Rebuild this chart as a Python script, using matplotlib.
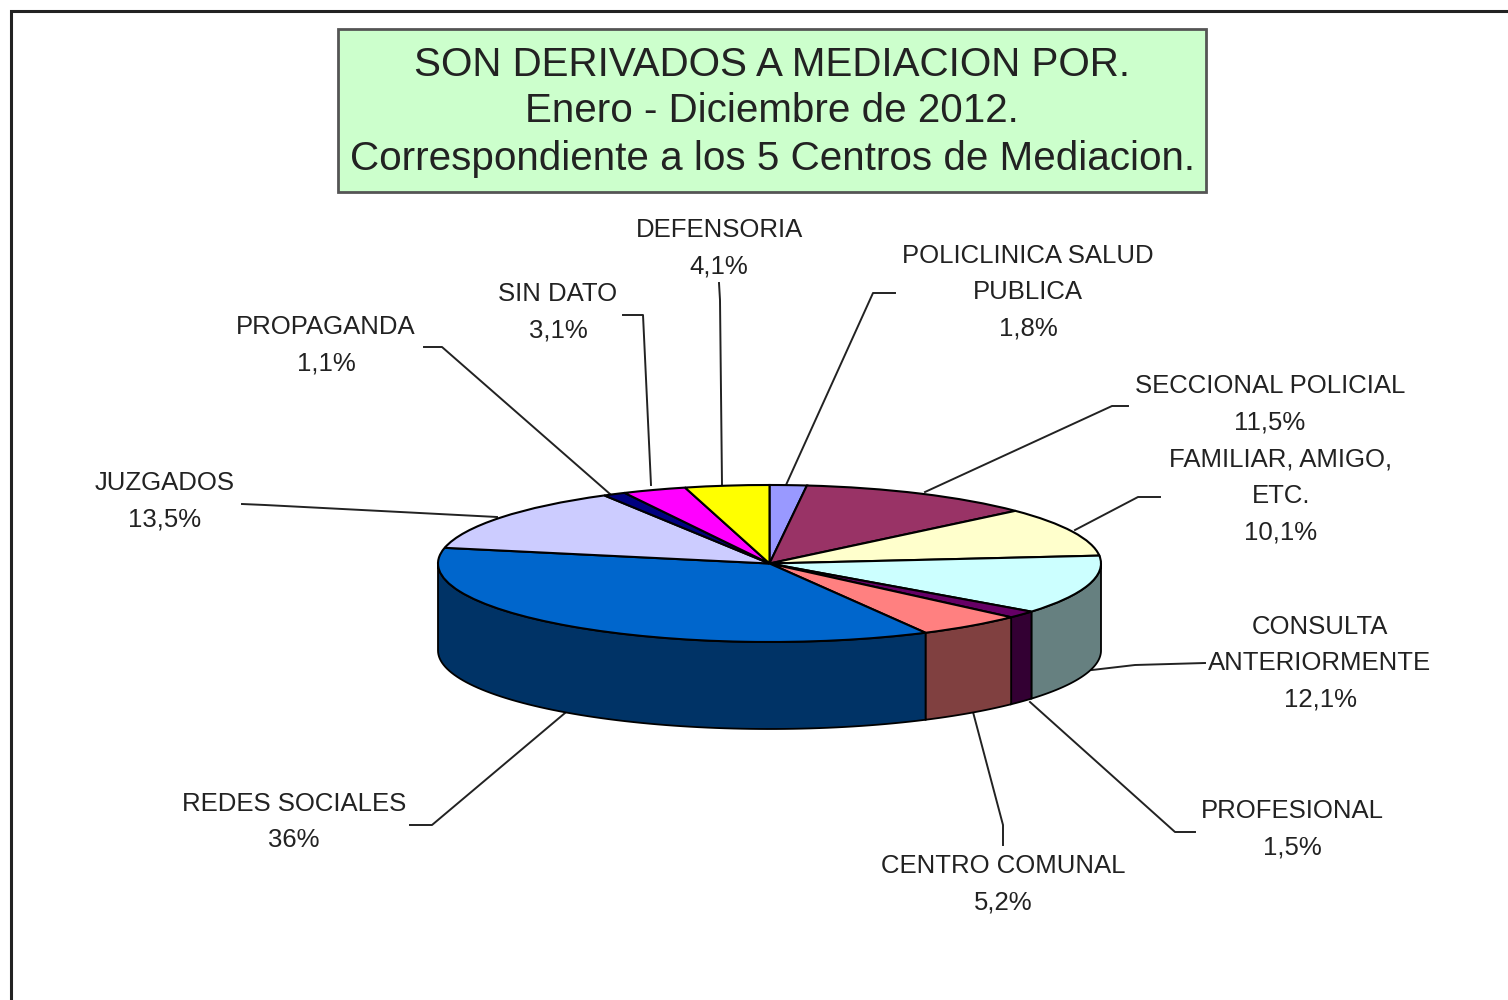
import numpy as np
import matplotlib
matplotlib.use("Agg")
import matplotlib.pyplot as plt
from matplotlib.patches import Rectangle

plt.rcParams['font.family'] = ['Liberation Sans', 'DejaVu Sans']

# clockwise from 12 o'clock
categories = ["POLICLINICA SALUD\nPUBLICA", "SECCIONAL POLICIAL", "FAMILIAR, AMIGO,\nETC.",
              "CONSULTA\nANTERIORMENTE", "PROFESIONAL", "CENTRO COMUNAL", "REDES SOCIALES",
              "JUZGADOS", "PROPAGANDA", "SIN DATO", "DEFENSORIA"]
values = [1.8, 11.5, 10.1, 12.1, 1.5, 5.2, 36, 13.5, 1.1, 3.1, 4.1]
title_lines = ["SON DERIVADOS A MEDIACION POR.", "Enero - Diciembre de 2012.",
               "Correspondiente a los 5 Centros de Mediacion."]

top_colors = ["#9999FF", "#993366", "#FFFFCC", "#CCFFFF", "#660066", "#FF8080",
              "#0066CC", "#CCCCFF", "#000080", "#FF00FF", "#FFFF00"]
side_colors = ["#4D4D80", "#4D1A33", "#808066", "#668080", "#330033", "#804040",
               "#003366", "#666680", "#000040", "#800080", "#808000"]

# label centres and leader lines, in pixels of the 1508x1000 picture
label_pos = [(1028, 292), (1270, 404), (1281, 496), (1320, 663), (1292, 829), (1003, 884),
             (294, 822), (165, 501), (326, 345), (558, 312), (719, 248)]
leaders = [[(895, 293), (873, 293), (786, 485)],
           [(1128, 406), (1112, 406), (925, 492)],
           [(1160, 497), (1138, 497), (1075, 530)],
           [(1205, 663), (1135, 665), (1092, 670)],
           [(1195, 832), (1175, 832), (1030, 702)],
           [(1003, 845), (1003, 825), (973, 712)],
           [(410, 825), (432, 825), (565, 713)],
           [(242, 504), (265, 505), (497, 517)],
           [(424, 347), (442, 347), (610, 494)],
           [(623, 315), (643, 315), (651, 485)],
           [(719, 283), (720, 300), (722, 485)]]

W, H = 1508, 1000
fig = plt.figure(figsize=(W / 100, H / 100), dpi=100, facecolor="white")

# overlay in pixel coordinates for frame, title and labels
bg = fig.add_axes([0, 0, 1, 1])
bg.set_xlim(0, W)
bg.set_ylim(H, 0)
bg.axis("off")

bg.plot([11, 11, W], [H, 11, 11], color="#222222", lw=2.2, solid_joinstyle="miter")
bg.add_patch(Rectangle((338, 29), 868, 163, facecolor="#CCFFCC", edgecolor="#555555", lw=2.0))
for line, y in zip(title_lines, [64.5, 111.5, 158.5]):
    bg.text(772, y, line, ha="center", va="center", fontsize=29.1, color="#222222")

for name, val, (x, y) in zip(categories, values, label_pos):
    txt = f"{val:g}".replace(".", ",")
    bg.text(x, y, f"{name}\n{txt}%", ha="center", va="center", fontsize=18.5,
            linespacing=1.64, color="#222222")
for pts in leaders:
    xs, ys = zip(*pts)
    bg.plot(xs, ys, color="#222222", lw=1.4)

# pie: an ordinary pie stretched into an ellipse, side wall hung below it
top_y, mid_y, bottom_y = 485, 563.5, 729
left_x, right_x = 438, 1101
depth = (bottom_y - mid_y) / (mid_y - top_y) - 1
ax = fig.add_axes([left_x / W, 1 - bottom_y / H, (right_x - left_x) / W, (bottom_y - top_y) / H])
ax.pie(values, colors=top_colors, startangle=90, counterclock=False, radius=1,
       wedgeprops=dict(edgecolor="black", linewidth=1.5), normalize=True)
ax.set_aspect("auto")
ax.set_xlim(-1, 1)
ax.set_ylim(-1 - depth, 1)

ends = np.cumsum(values) / np.sum(values) * 2 * np.pi
starts = np.concatenate([[0], ends[:-1]])
for a0, a1, col in zip(starts, ends, side_colors):
    a0, a1 = max(a0, np.pi / 2), min(a1, 3 * np.pi / 2)
    if a1 <= a0:
        continue
    t = np.linspace(a0, a1, 80)
    xs, ys = np.sin(t), np.cos(t)
    ax.fill(np.r_[xs, xs[::-1]], np.r_[ys, ys[::-1] - depth], facecolor=col,
            edgecolor="black", linewidth=1.3, zorder=0.5, clip_on=False)

fig.savefig("out.png", dpi=100)
